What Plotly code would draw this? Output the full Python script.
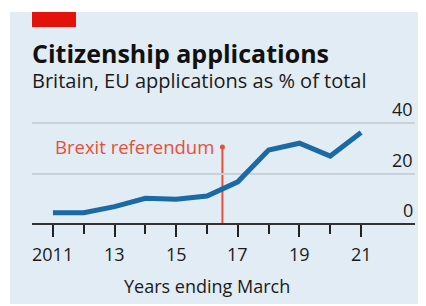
import plotly.graph_objects as go

years = [2011, 2012, 2013, 2014, 2015, 2016, 2017, 2018, 2019, 2020, 2021]
eu_share = [4.5, 4.5, 6.9, 10.2, 9.8, 11.1, 16.7, 29.3, 32.0, 26.9, 36.2]
tick_years = [2011, 2013, 2015, 2017, 2019, 2021]
minor_years = [2012, 2014, 2016, 2018, 2020]
tick_labels = ["2011", "13", "15", "17", "19", "21"]
y_ticks = [0, 20, 40]
y_tick_labels = ["0", "20", "40"]
brexit_x = 2016.5
brexit_top = 30.5
title = "Citizenship applications"
subtitle = "Britain, EU applications as % of total"

# page body has an 8px margin: figure drawn from (8, 8) in the window
OFF = 8
W, H = 426 - OFF, 306 - OFF
PL, PR, PT, PB = 32, 415, 100, 224          # plot area in window pixels
ml, mr, mt, mb = PL - OFF, 426 - PR, PT - OFF, 306 - PB
pw, ph = PR - PL, PB - PT

def px_x(p):
    return (p - PL) / pw

def px_y(p):
    return (PB - p) / ph

BG = "#e2ecf4"
BLUE = "#1b6aa5"
RED = "#e84f3a"
DARK = "#1a1a1a"
FONT = "Open Sans"

fig = go.Figure()
fig.add_trace(go.Scatter(x=years, y=eu_share, mode="lines",
                         line=dict(color=BLUE, width=5), showlegend=False,
                         hoverinfo="skip"))
fig.add_trace(go.Scatter(x=[brexit_x], y=[brexit_top], mode="markers",
                         marker=dict(color=RED, size=5), showlegend=False,
                         hoverinfo="skip"))

shapes = [
    dict(type="rect", xref="paper", yref="paper", x0=px_x(10), x1=px_x(440),
         y0=px_y(304), y1=px_y(12), fillcolor=BG, line=dict(width=0), layer="below"),
    dict(type="rect", xref="paper", yref="paper", x0=px_x(32), x1=px_x(76),
         y0=px_y(27), y1=px_y(12), fillcolor="#e3120b", line=dict(width=0)),
    dict(type="line", xref="x", yref="y", x0=brexit_x, x1=brexit_x, y0=0, y1=brexit_top,
         line=dict(color=RED, width=2), layer="below"),
]

heading = (f"<b><span style='font-size:25px;color:#111111'>{title}</span></b><br>"
           f"<span style='font-size:20px'>{subtitle}</span>")

annotations = [
    dict(text=heading, xref="paper", yref="paper", align="left",
         x=px_x(30), y=px_y(65), xanchor="left", yanchor="middle", showarrow=False,
         font=dict(family=FONT, size=19.5, color="#1a1a1a")),
    dict(text="Brexit referendum", xref="x", yref="paper",
         x=brexit_x, xshift=-6, y=px_y(146), xanchor="right", yanchor="middle",
         showarrow=False, font=dict(family=FONT, size=18.5, color=RED)),
    dict(text="Years ending March", xref="paper", yref="paper",
         x=px_x(207), y=px_y(286), xanchor="center", yanchor="middle", showarrow=False,
         font=dict(family=FONT, size=18, color=DARK)),
]
for v, t in zip(tick_years, tick_labels):
    annotations.append(dict(text=t, xref="x", yref="paper", x=v, y=px_y(254),
                            xanchor="center", yanchor="middle", showarrow=False,
                            font=dict(family=FONT, size=18, color=DARK)))
for v, t in zip(y_ticks, y_tick_labels):
    annotations.append(dict(text=t, xref="paper", yref="y", x=1, y=v, yshift=0,
                            xanchor="right", yanchor="bottom", showarrow=False,
                            font=dict(family=FONT, size=18, color=DARK)))

fig.update_layout(
    width=W, height=H,
    margin=dict(l=ml, r=mr, t=mt, b=mb, pad=0),
    paper_bgcolor="white", plot_bgcolor="rgba(0,0,0,0)",
    shapes=shapes, annotations=annotations,
    font=dict(family=FONT, color=DARK),
    xaxis=dict(range=[2010.32, 2022.75], tickvals=tick_years, showticklabels=False,
               ticks="outside", ticklen=12, tickwidth=2, tickcolor="#222222",
               minor=dict(tickvals=minor_years, ticks="outside", ticklen=9,
                          tickwidth=2, tickcolor="#222222", showgrid=False),
               showgrid=False, zeroline=False, showline=False),
    yaxis=dict(range=[0, 40 * ph / 101], tickvals=y_ticks, showticklabels=False,
               ticks="", showgrid=True, gridcolor="#c9d2da", gridwidth=1.5,
               zeroline=True, zerolinecolor="#333333", zerolinewidth=2,
               showline=False),
)

fig.write_html("out.html")
